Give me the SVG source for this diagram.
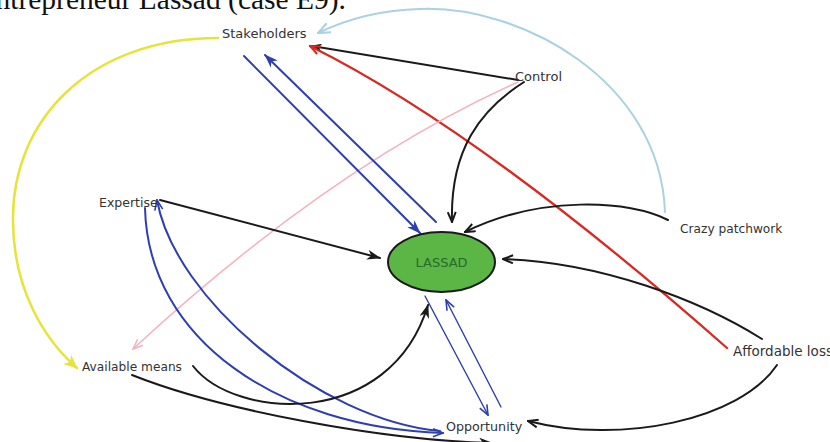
<svg xmlns="http://www.w3.org/2000/svg" width="830" height="442" viewBox="0 0 830 442">
<style>
.lbl{font-family:"DejaVu Sans",Verdana,sans-serif;font-size:12.5px;fill:#333}
.c{fill:none;stroke-linecap:round}
.bk{stroke:#1a1a1a;stroke-width:2}
.bl{stroke:#2e3fae;stroke-width:2}
.blt{stroke:#2e3fae;stroke-width:1.4}
</style>
<defs>
<marker id="fBlack" viewBox="0 0 14 10" refX="13" refY="5" markerWidth="14" markerHeight="10" orient="auto" markerUnits="userSpaceOnUse"><path d="M0,0 L14,5 L0,10 L4,5 z" fill="#1a1a1a"/></marker>
<marker id="fBlackS" viewBox="0 0 12 9" refX="11" refY="4.5" markerWidth="11" markerHeight="8" orient="auto" markerUnits="userSpaceOnUse"><path d="M0,0 L12,4.5 L0,9 L3,4.5 z" fill="#1a1a1a"/></marker>
<marker id="fBlue" viewBox="0 0 14 10" refX="13" refY="5" markerWidth="14" markerHeight="10" orient="auto" markerUnits="userSpaceOnUse"><path d="M0,0 L14,5 L0,10 L4,5 z" fill="#2e3fae"/></marker>
<marker id="fYellow" viewBox="0 0 14 12" refX="13" refY="6" markerWidth="14" markerHeight="12" orient="auto" markerUnits="userSpaceOnUse"><path d="M0,0 L14,6 L0,12 L4,6 z" fill="#e6e43c"/></marker>
<marker id="oBlack" viewBox="0 0 12 10" refX="11" refY="5" markerWidth="12" markerHeight="10" orient="auto" markerUnits="userSpaceOnUse"><path d="M1,1 L11,5 L1,9" fill="none" stroke="#1a1a1a" stroke-width="2"/></marker>
<marker id="oBlue" viewBox="0 0 12 10" refX="11" refY="5" markerWidth="12" markerHeight="10" orient="auto" markerUnits="userSpaceOnUse"><path d="M1,1 L11,5 L1,9" fill="none" stroke="#2e3fae" stroke-width="1.6"/></marker>
<marker id="oRed" viewBox="0 0 12 10" refX="11" refY="5" markerWidth="12" markerHeight="10" orient="auto" markerUnits="userSpaceOnUse"><path d="M1,1 L11,5 L1,9" fill="none" stroke="#d62a22" stroke-width="2"/></marker>
<marker id="oPink" viewBox="0 0 12 10" refX="11" refY="5" markerWidth="12" markerHeight="10" orient="auto" markerUnits="userSpaceOnUse"><path d="M1,1 L11,5 L1,9" fill="none" stroke="#f2b6c0" stroke-width="1.6"/></marker>
<marker id="oLBlue" viewBox="0 0 14 12" refX="13" refY="6" markerWidth="14" markerHeight="12" orient="auto" markerUnits="userSpaceOnUse"><path d="M1,1 L13,6 L1,11" fill="none" stroke="#a9d2e2" stroke-width="2"/></marker>
</defs>
<rect width="830" height="442" fill="#fff"/>
<text x="346" y="9" text-anchor="end" style="font-family:'Liberation Serif','Times New Roman',serif;font-size:29.5px;fill:#111">ntrepreneur Lassad (case E9).</text>
<g id="connectors">
<path class="c" d="M218,38 C90,38 12,120 13,220 C13,290 45,340 77,368" stroke="#e6e43c" stroke-width="2.5" marker-end="url(#fYellow)"/>
<path class="c" d="M665,212 C660,80 520,5 420,9 C380,10 345,20 318,33" stroke="#a9d2e2" stroke-width="2" marker-end="url(#oLBlue)"/>
<path class="c bk" d="M518,80 L312,46" marker-end="url(#fBlackS)"/>
<path class="c" d="M727,348 Q481,131 310,46" stroke="#d62a22" stroke-width="2.3" marker-end="url(#oRed)"/>
<path class="c" d="M518,82 Q332,165 133,349" stroke="#f2b6c0" stroke-width="1.6" marker-end="url(#oPink)"/>
<path class="c bk" d="M524,82 C480,110 450,150 452,222" marker-end="url(#oBlack)"/>
<path class="c bk" d="M668,220 C630,200 540,195 465,232" marker-end="url(#oBlack)"/>
<path class="c bk" d="M762,339 C700,300 600,262 503,259" marker-end="url(#oBlack)"/>
<path class="c bk" d="M777,365 C740,420 620,445 528,421" marker-end="url(#oBlack)"/>
<path class="c bk" d="M160,200 L380,258" marker-end="url(#fBlack)"/>
<path class="c bl" d="M244,56 L420,233" marker-end="url(#fBlue)"/>
<path class="c bl" d="M436,222 L265,55" marker-end="url(#fBlue)"/>
<path class="c blt" d="M425,296 L488,415" marker-end="url(#oBlue)"/>
<path class="c blt" d="M501,407 L446,300" marker-end="url(#oBlue)"/>
<path class="c bl" d="M145,208 C148,340 280,428 443,433" marker-end="url(#oBlue)"/>
<path class="c bl" d="M440,431 C320,420 175,300 157,200" marker-end="url(#oBlue)"/>
<path class="c bk" d="M193,366 C235,420 390,430 428,305" marker-end="url(#fBlack)"/>
<path class="c bk" d="M132,375 C220,410 380,440 492,443" marker-end="url(#fBlack)"/>
</g>
<g id="stakeholders"><text class="lbl" x="222" y="38" style="font-size:13px">Stakeholders</text></g>
<g id="control"><text class="lbl" x="515" y="81" style="font-size:13px">Control</text></g>
<g id="expertise"><text class="lbl" x="99" y="207">Expertise</text></g>
<g id="crazy-patchwork"><text class="lbl" x="680" y="233" style="font-size:12.2px">Crazy patchwork</text></g>
<g id="lassad"><ellipse cx="441.5" cy="262" rx="53.5" ry="30" fill="#5cb646" stroke="#1a1a1a" stroke-width="2"/><text x="441.5" y="267" text-anchor="middle" style="font-family:'DejaVu Sans',Verdana,sans-serif;font-size:13px;fill:#2a6a2a">LASSAD</text></g>
<g id="available-means"><text class="lbl" x="82" y="371" style="font-size:12.2px">Available means</text></g>
<g id="opportunity"><text class="lbl" x="446" y="431" style="font-size:12.7px">Opportunity</text></g>
<g id="affordable-loss"><text class="lbl" x="733" y="356" style="font-size:13.5px">Affordable loss</text></g>
</svg>
